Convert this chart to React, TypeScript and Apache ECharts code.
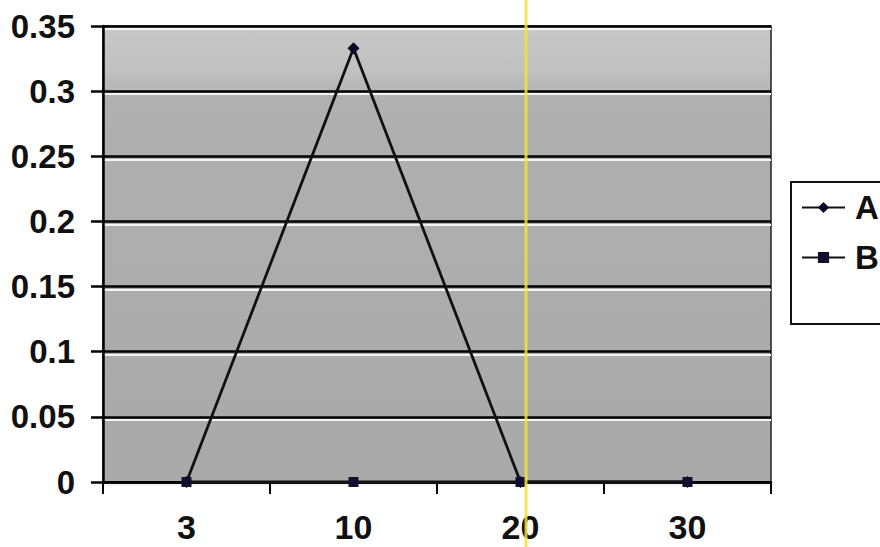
import React, { useEffect, useRef } from "react";
import * as echarts from "echarts";

const categories = ["3", "10", "20", "30"];
const seriesA = [0, 0.333, 0, 0];
const seriesB = [0, 0, 0, 0];
const yTicks = { min: 0, max: 0.35, interval: 0.05 };

const FONT = "'Liberation Sans', Arial, sans-serif";

export default function App() {
  const ref = useRef<HTMLDivElement>(null);
  useEffect(() => {
    if (!ref.current) return;
    const chart = echarts.init(ref.current, undefined, { renderer: "svg" });
    chart.setOption({
      animation: false,
      backgroundColor: "#ffffff",
      grid: [
        {
          left: 103,
          right: 109,
          top: 26,
          bottom: 65,
          show: true,
          backgroundColor: {
            type: "linear",
            x: 0,
            y: 0,
            x2: 0,
            y2: 1,
            colorStops: [
              { offset: 0, color: "#c8c8c8" },
              { offset: 0.1, color: "#c0c0c0" },
              { offset: 0.16, color: "#b0b0b0" },
              { offset: 1, color: "#a9a9a9" },
            ],
          },
          borderColor: "#222",
          borderWidth: 1.5,
        },
        {
          left: 103,
          right: 109,
          top: 29,
          bottom: 62,
          show: false,
        },
      ],
      xAxis: [
        {
          type: "category",
          gridIndex: 0,
          data: categories,
          boundaryGap: true,
          axisLine: { lineStyle: { color: "#000", width: 2.5 } },
          axisTick: { show: true, length: 12, lineStyle: { color: "#000", width: 2 } },
          axisLabel: {
            margin: 28,
            fontFamily: FONT,
            fontWeight: "bold",
            fontSize: 34,
            color: "#111",
          },
          splitLine: { show: false },
          z: 3,
        },
        {
          type: "category",
          gridIndex: 1,
          data: categories,
          show: false,
        },
      ],
      yAxis: [
        {
          type: "value",
          gridIndex: 0,
          min: yTicks.min,
          max: yTicks.max,
          interval: yTicks.interval,
          axisLine: { show: true, lineStyle: { color: "#000", width: 2.5 } },
          axisTick: { show: true, length: 12, lineStyle: { color: "#000", width: 2.5 } },
          axisLabel: {
            margin: 28,
            fontFamily: FONT,
            fontWeight: "bold",
            fontSize: 33,
            color: "#111",
            formatter: (v: number) => String(parseFloat(v.toFixed(2))),
          },
          splitLine: { show: true, lineStyle: { color: "#000", width: 2.5 } },
          z: 3,
        },
        {
          type: "value",
          gridIndex: 1,
          min: yTicks.min,
          max: yTicks.max,
          interval: yTicks.interval,
          axisLine: { show: false },
          axisTick: { show: false },
          axisLabel: { show: false },
          splitLine: { show: true, lineStyle: { color: "#f4f4f4", width: 2 } },
          z: 2,
        },
      ],
      legend: {
        orient: "vertical",
        left: 791,
        top: 182,
        padding: [9, 40, 50, 10],
        itemGap: 17,
        itemWidth: 43,
        itemHeight: 14,
        borderColor: "#111",
        borderWidth: 2,
        backgroundColor: "#fff",
        textStyle: {
          fontFamily: FONT,
          fontWeight: "bold",
          fontSize: 33,
          color: "#111",
          padding: [0, 0, 0, 5],
        },
        data: ["A", "B"],
      },
      series: [
        {
          name: "A",
          type: "line",
          xAxisIndex: 0,
          yAxisIndex: 0,
          data: seriesA,
          symbol: "diamond",
          symbolSize: 12,
          showAllSymbol: true,
          lineStyle: { color: "#111", width: 2.8 },
          itemStyle: { color: "#0a0a28", borderWidth: 0 },
          z: 4,
        },
        {
          name: "B",
          type: "line",
          xAxisIndex: 0,
          yAxisIndex: 0,
          data: seriesB,
          symbol: "rect",
          symbolSize: 10,
          showAllSymbol: true,
          lineStyle: { color: "#111", width: 2.8 },
          itemStyle: { color: "#10102e", borderWidth: 0 },
          z: 5,
        },
      ],
      graphic: [
        {
          type: "line",
          z: 100,
          shape: { x1: 526, y1: 0, x2: 526, y2: 547 },
          style: { stroke: "rgba(238, 228, 60, 0.85)", lineWidth: 3 },
        },
      ],
    });
    return () => chart.dispose();
  }, []);
  return <div ref={ref} style={{ width: 880, height: 547, position: "absolute", left: 0, top: 0 }} />;
}
